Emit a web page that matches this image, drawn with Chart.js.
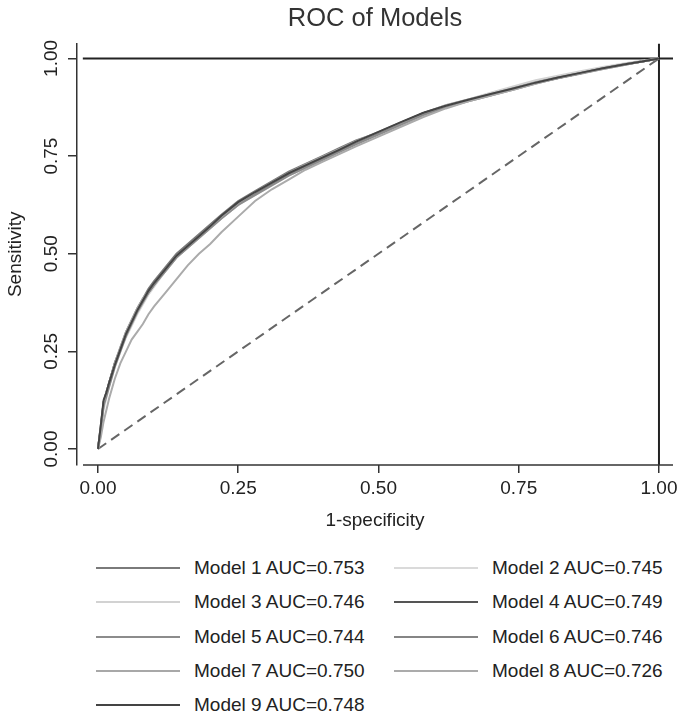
<!DOCTYPE html>
<html>
<head>
<meta charset="utf-8">
<script src="https://cdn.jsdelivr.net/npm/chart.js@4.4.1/dist/chart.umd.min.js"></script>
<style>
  body { margin: 0; background: #fff; font-family: "Liberation Sans", Arial, sans-serif; }
  #wrap { position: relative; width: 685px; height: 719px; }
  #roc { position: absolute; left: 0; top: 0; }
  .item { position: absolute; height: 20px; }
  .item .swatch { position: absolute; left: 0; top: 9px; width: 84px; height: 2px; }
  .item .label { position: absolute; left: 98px; top: -1px; font-size: 19px; color: #222; white-space: nowrap; }
</style>
</head>
<body>
<div id="wrap">
  <canvas id="roc" width="685" height="540"></canvas>
  <div id="legend"></div>
</div>
<script>
// false positive rate grid shared by all curves
const fpr = [0, 0.005, 0.01, 0.015, 0.02, 0.03, 0.04, 0.05, 0.06, 0.07, 0.08, 0.09, 0.10,
  0.12, 0.14, 0.16, 0.18, 0.20, 0.22, 0.25, 0.28, 0.31, 0.34, 0.37, 0.40, 0.43, 0.46,
  0.50, 0.54, 0.58, 0.62, 0.66, 0.70, 0.74, 0.78, 0.82, 0.86, 0.90, 0.94, 0.97, 1];

const modelNames = ["Model 1", "Model 2", "Model 3", "Model 4", "Model 5",
  "Model 6", "Model 7", "Model 8", "Model 9"];
const aucValues = [0.753, 0.745, 0.746, 0.749, 0.744, 0.746, 0.750, 0.726, 0.748];
const lineColors = ["#7a7a7a", "#dadada", "#d2d2d2", "#555555", "#8c8c8c",
  "#858585", "#a8a8a8", "#ababab", "#444444"];

// sensitivity
const tpr1 = [0, .05, .12, .14, .17, .22, .26, .30, .33, .36, .385, .41, .43, .465, .50, .525, .55, .575, .60, .635, .66, .685, .71, .73, .75, .77, .79, .81, .835, .86, .88, .895, .91, .925, .94, .952, .963, .975, .985, .992, 1];
const tpr2 = [0, .04, .10, .13, .16, .21, .25, .285, .315, .345, .37, .395, .415, .455, .49, .515, .54, .565, .59, .625, .65, .675, .70, .72, .74, .76, .78, .805, .83, .855, .875, .89, .905, .922, .938, .95, .962, .975, .986, .993, 1];
const tpr3 = [0, .05, .11, .14, .165, .215, .255, .29, .32, .35, .375, .40, .42, .455, .49, .515, .54, .565, .59, .625, .655, .68, .705, .725, .745, .765, .785, .81, .835, .86, .88, .895, .912, .928, .944, .956, .967, .978, .988, .994, 1];
const tpr4 = [0, .06, .12, .145, .17, .22, .255, .295, .325, .355, .38, .405, .425, .46, .495, .52, .545, .57, .595, .63, .655, .68, .705, .725, .745, .765, .785, .81, .835, .86, .878, .893, .908, .922, .937, .95, .962, .974, .985, .992, 1];
const tpr5 = [0, .05, .11, .135, .16, .21, .25, .29, .32, .35, .375, .40, .42, .455, .49, .515, .54, .565, .59, .625, .65, .675, .70, .72, .74, .76, .78, .805, .83, .855, .875, .89, .905, .92, .936, .949, .961, .973, .984, .992, 1];
const tpr6 = [0, .05, .115, .14, .165, .215, .255, .29, .325, .355, .38, .40, .42, .46, .495, .52, .545, .57, .595, .63, .655, .68, .705, .725, .745, .765, .785, .81, .835, .858, .877, .892, .907, .922, .937, .95, .962, .974, .985, .992, 1];
const tpr7 = [0, .055, .12, .145, .17, .22, .26, .30, .33, .36, .385, .405, .425, .46, .495, .52, .545, .57, .595, .63, .658, .683, .707, .728, .748, .768, .788, .812, .836, .86, .879, .894, .909, .924, .939, .951, .963, .975, .986, .993, 1];
const tpr8 = [0, .03, .07, .10, .13, .18, .22, .25, .28, .30, .32, .345, .365, .40, .435, .47, .50, .525, .555, .595, .635, .665, .69, .715, .735, .755, .775, .80, .825, .85, .872, .89, .905, .92, .935, .95, .962, .973, .984, .992, 1];
const tpr9 = [0, .06, .125, .145, .17, .215, .255, .295, .325, .355, .38, .405, .425, .46, .495, .52, .545, .57, .597, .632, .658, .682, .706, .726, .746, .766, .787, .812, .837, .861, .879, .894, .909, .923, .938, .951, .963, .975, .985, .992, 1];
const tprSeries = [tpr1, tpr2, tpr3, tpr4, tpr5, tpr6, tpr7, tpr8, tpr9];

const xTicks = [0, 0.25, 0.5, 0.75, 1];
const yTicks = [0, 0.25, 0.5, 0.75, 1];
const X_MIN = -0.0374, X_MAX = 1.025;
const Y_MIN = -0.041, Y_MAX = 1.038;

const curveSets = modelNames.map((name, i) => ({
  label: name + " AUC=" + aucValues[i].toFixed(3),
  data: fpr.map((x, k) => ({ x: x, y: tprSeries[i][k] })),
  borderColor: lineColors[i],
  borderWidth: 2,
  pointRadius: 0,
  tension: 0,
  order: modelNames.length - i
}));

const refSets = [
  { label: "diag", data: [{ x: 0, y: 0 }, { x: 1, y: 1 }], borderColor: "#666", borderWidth: 2,
    borderDash: [10, 6], pointRadius: 0, order: 20 },
  { label: "ytop", data: [{ x: -0.027, y: 1 }, { x: X_MAX, y: 1 }], borderColor: "#222", borderWidth: 2,
    pointRadius: 0, order: 21 },
  { label: "xright", data: [{ x: 1, y: Y_MIN }, { x: 1, y: Y_MAX }], borderColor: "#222", borderWidth: 2,
    pointRadius: 0, order: 21 }
];

// x axis line starts a little right of the y axis, like Stata does
const xAxisLine = {
  id: "xAxisLine",
  afterDraw(chart) {
    const { ctx, chartArea } = chart;
    ctx.save();
    ctx.strokeStyle = "#333";
    ctx.lineWidth = 1.5;
    ctx.beginPath();
    ctx.moveTo(chartArea.left + 6, chartArea.bottom);
    ctx.lineTo(chartArea.right, chartArea.bottom);
    ctx.stroke();
    ctx.restore();
  }
};

const font = { family: "'Liberation Sans', Arial, sans-serif", size: 19 };

new Chart(document.getElementById("roc"), {
  type: "line",
  data: { datasets: [...curveSets, ...refSets] },
  plugins: [xAxisLine],
  options: {
    responsive: false,
    animation: false,
    layout: { padding: { left: 0, right: 12, top: 0, bottom: 0 } },
    plugins: {
      legend: { display: false },
      tooltip: { enabled: false },
      title: {
        display: true,
        fullSize: false,
        text: "ROC of Models",
        color: "#333",
        font: { family: font.family, size: 25.5, weight: "normal" },
        padding: { top: 4, bottom: 9 }
      }
    },
    scales: {
      x: {
        type: "linear",
        min: X_MIN,
        max: X_MAX,
        afterBuildTicks: (s) => { s.ticks = xTicks.map((v) => ({ value: v })); },
        afterFit: (s) => { s.height = 75; },
        border: { display: false },
        grid: { drawOnChartArea: false, drawTicks: true, tickLength: 8, color: "#333", lineWidth: 1.5 },
        ticks: { color: "#222", font: font, padding: 4, maxRotation: 0, callback: (v) => v.toFixed(2) },
        title: { display: true, text: "1-specificity", color: "#222", font: font, padding: { top: 6, bottom: 8 } }
      },
      y: {
        type: "linear",
        min: Y_MIN,
        max: Y_MAX,
        afterBuildTicks: (s) => { s.ticks = yTicks.map((v) => ({ value: v })); },
        afterFit: (s) => { s.width = 77; },
        border: { display: true, color: "#333", width: 1.5 },
        grid: { drawOnChartArea: false, drawTicks: true, tickLength: 9, color: "#333", lineWidth: 1.5 },
        ticks: { color: "#222", font: font, padding: -2, minRotation: 90, maxRotation: 90,
          crossAlign: "center", callback: (v) => v.toFixed(2) },
        title: { display: true, text: "Sensitivity", color: "#222", font: font, padding: { top: 4, bottom: 0 } }
      }
    }
  }
});

// two-column legend under the plot
const legendEl = document.getElementById("legend");
legendEl.innerHTML = curveSets
  .map((ds, i) => {
    const col = i % 2, row = Math.floor(i / 2);
    const left = col === 0 ? 96 : 394;
    const top = 558 + row * 34.3;
    return `<div class="item" style="left:${left}px;top:${top}px">
      <div class="swatch" style="background:${ds.borderColor}"></div>
      <div class="label">${ds.label}</div></div>`;
  })
  .join("");
</script>
</body>
</html>
